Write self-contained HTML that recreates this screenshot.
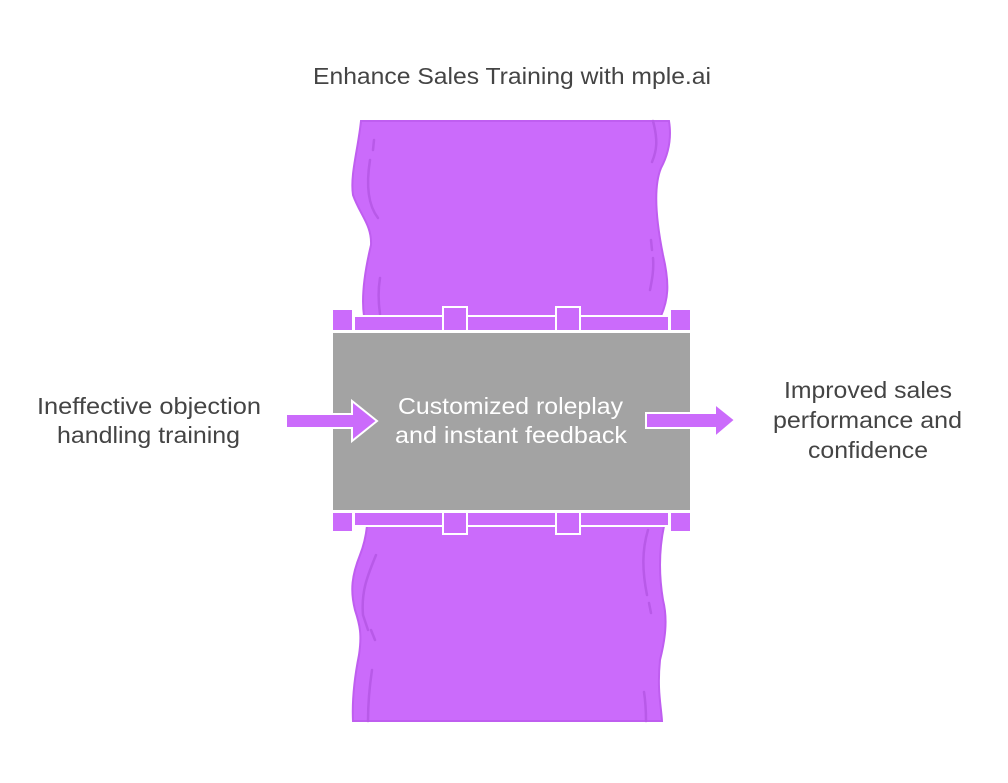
<!DOCTYPE html>
<html><head><meta charset="utf-8"><style>
html,body{margin:0;padding:0;background:#fff;}
svg{display:block;}
text{font-family:"Liberation Sans",sans-serif;}
</style></head><body>
<svg width="1008" height="783" viewBox="0 0 1008 783" xmlns="http://www.w3.org/2000/svg">
<rect width="1008" height="783" fill="#fff"/>
<text x="313" y="84" font-size="23" fill="#444" textLength="398" lengthAdjust="spacingAndGlyphs">Enhance Sales Training with mple.ai</text>

<path d="M361,121 L669,121 C672,140 668,155 661,168 C654,185 655,215 663,255 C670,285 668,300 661,316 L364,316 C361,295 365,270 371,245 C372,225 360,215 353,195 C350,175 358,150 361,121 Z" fill="#cb6bfb" stroke="#bf5ef0" stroke-width="2"/>
<path d="M374,140 L373,150 M370,160 C366,185 368,205 378,218" stroke="#b85ae8" stroke-width="2.5" fill="none" stroke-linecap="round"/>
<path d="M653,121 C658,140 657,150 652,162 M651,240 L652,250 M653,258 C654,270 652,280 650,290" stroke="#b85ae8" stroke-width="2.5" fill="none" stroke-linecap="round"/>
<path d="M380,278 C378,290 378,300 380,314" stroke="#b85ae8" stroke-width="2.5" fill="none" stroke-linecap="round"/>

<path d="M367,526 L664,526 C660,545 658,570 663,600 C668,620 665,640 660,660 C657,690 661,705 662,721 L353,721 C352,700 354,680 359,655 C362,635 360,625 355,610 C350,590 352,575 360,555 C364,545 366,535 367,526 Z" fill="#cb6bfb" stroke="#bf5ef0" stroke-width="2"/>
<path d="M376,555 C368,575 361,590 363,615 L368,630 M371,630 L375,640" stroke="#b85ae8" stroke-width="2.5" fill="none" stroke-linecap="round"/>
<path d="M372,670 C369,690 368,705 368,721" stroke="#b85ae8" stroke-width="2.5" fill="none" stroke-linecap="round"/>
<path d="M648,530 C642,550 642,570 647,595 M649,603 L651,613 M644,692 C646,705 646,715 646,721" stroke="#b85ae8" stroke-width="2.5" fill="none" stroke-linecap="round"/>

<rect x="333" y="333" width="357" height="177" fill="#a3a3a3"/>

<g fill="#cb6bfb" stroke="#fff" stroke-width="2">
<rect x="332" y="309" width="21" height="22"/>
<rect x="354" y="316" width="89" height="15"/>
<rect x="467" y="316" width="89" height="15"/>
<rect x="580" y="316" width="89" height="15"/>
<rect x="670" y="309" width="21" height="22"/>
<rect x="443" y="307" width="24" height="24"/>
<rect x="556" y="307" width="24" height="24"/>
</g>
<g fill="#cb6bfb" stroke="#fff" stroke-width="2">
<rect x="332" y="512" width="21" height="20"/>
<rect x="354" y="512" width="89" height="14"/>
<rect x="467" y="512" width="89" height="14"/>
<rect x="580" y="512" width="89" height="14"/>
<rect x="670" y="512" width="21" height="20"/>
<rect x="443" y="512" width="24" height="22"/>
<rect x="556" y="512" width="24" height="22"/>
</g>

<text x="398" y="414" font-size="23" fill="#fff" textLength="225" lengthAdjust="spacingAndGlyphs">Customized roleplay</text>
<text x="395" y="443" font-size="23" fill="#fff" textLength="232" lengthAdjust="spacingAndGlyphs">and instant feedback</text>

<path d="M288,414 L352,414 L352,401 L377,421 L352,441 L352,428 L288,428 Z" fill="#cb6bfb" stroke="#fff" stroke-width="2"/>
<rect x="287" y="415" width="50" height="12" fill="#cb6bfb"/>
<path d="M646,413 L715,413 L715,404 L735,420 L715,437 L715,428 L646,428 Z" fill="#cb6bfb" stroke="#fff" stroke-width="2"/>

<text x="37" y="414" font-size="23" fill="#444" textLength="224" lengthAdjust="spacingAndGlyphs">Ineffective objection</text>
<text x="57" y="443" font-size="23" fill="#444" textLength="183" lengthAdjust="spacingAndGlyphs">handling training</text>

<text x="784" y="398" font-size="23" fill="#444" textLength="168" lengthAdjust="spacingAndGlyphs">Improved sales</text>
<text x="773" y="428" font-size="23" fill="#444" textLength="189" lengthAdjust="spacingAndGlyphs">performance and</text>
<text x="808" y="458" font-size="23" fill="#444" textLength="120" lengthAdjust="spacingAndGlyphs">confidence</text>
</svg>
</body></html>
